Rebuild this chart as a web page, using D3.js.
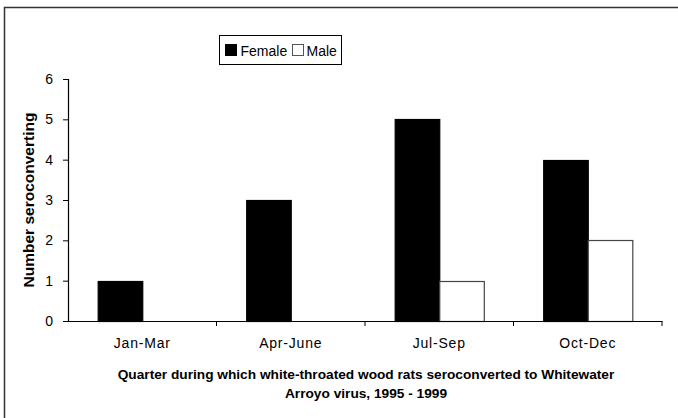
<!DOCTYPE html>
<html>
<head>
<meta charset="utf-8">
<script src="https://cdn.jsdelivr.net/npm/d3@7"></script>
<style>
  body { margin: 0; background: #fff; }
  text { font-family: Arial, "Liberation Sans", sans-serif; fill: #000; }
</style>
</head>
<body>
<div id="chart"></div>
<script>
var quarters = ["Jan-Mar", "Apr-June", "Jul-Sep", "Oct-Dec"];
var female = [1, 3, 5, 4];
var male = [0, 0, 1, 2];
var seriesNames = ["Female", "Male"];
var yTicks = [0, 1, 2, 3, 4, 5, 6];

var width = 678, height = 418;
var margin = {top: 79, right: 16, bottom: 97, left: 68};
var font = "Arial, 'Liberation Sans', sans-serif";

var svg = d3.select("#chart").append("svg")
  .attr("width", width)
  .attr("height", height);

// outer frame (runs off right/bottom as in the original)
svg.append("rect")
  .attr("x", 4.5).attr("y", 7.5)
  .attr("width", width).attr("height", height)
  .attr("fill", "none").attr("stroke", "#333").attr("stroke-width", 1.5);

var x0 = d3.scaleBand().domain(quarters)
  .range([margin.left, width - margin.right]);
var x1 = d3.scaleBand().domain(seriesNames)
  .range([x0.bandwidth() * 0.2, x0.bandwidth() * 0.8]);
var y = d3.scaleLinear().domain([0, 6])
  .range([height - margin.bottom, margin.top]);

var rows = quarters.map(function(q, i) {
  return {q: q, vals: [{k: "Female", v: female[i]}, {k: "Male", v: male[i]}]};
});

var g = svg.append("g");
g.selectAll("g.grp").data(rows).enter().append("g")
  .attr("class", "grp")
  .attr("transform", function(d) { return "translate(" + x0(d.q) + ",0)"; })
  .selectAll("rect").data(function(d) { return d.vals.filter(function(e) { return e.v > 0; }); })
  .enter().append("rect")
    .attr("x", function(d) { return x1(d.k) + 0.5; })
    .attr("y", function(d) { return Math.round(y(d.v)) + 0.5; })
    .attr("width", x1.bandwidth())
    .attr("height", function(d) { return Math.round(y(0)) - Math.round(y(d.v)); })
    .attr("fill", function(d) { return d.k === "Female" ? "#000" : "#fff"; })
    .attr("stroke", function(d) { return d.k === "Female" ? "#000" : "#444"; })
    .attr("stroke-width", 1.2);

// y axis
var yAxis = svg.append("g")
  .attr("transform", "translate(" + margin.left + ",0)")
  .call(d3.axisLeft(y).tickValues(yTicks).tickFormat(d3.format("d")).tickSize(5).tickPadding(10));
yAxis.select(".domain").attr("stroke", "#000").attr("stroke-width", 1.2);
yAxis.selectAll(".tick line").attr("stroke", "#000");
yAxis.selectAll(".tick text").attr("font-size", 14).attr("font-family", font);

// x axis
var xAxis = svg.append("g")
  .attr("transform", "translate(0," + y(0) + ")")
  .call(d3.axisBottom(x0).tickSize(0).tickPadding(17));
xAxis.select(".domain").attr("stroke", "#000").attr("stroke-width", 1.2);
xAxis.selectAll(".tick text").attr("font-size", 14).attr("letter-spacing", 0.8).attr("font-family", font);
// category separator ticks
xAxis.selectAll("line.sep").data(quarters).enter().append("line")
  .attr("class", "sep")
  .attr("x1", function(d) { return x0(d) + x0.bandwidth(); })
  .attr("x2", function(d) { return x0(d) + x0.bandwidth(); })
  .attr("y1", 0).attr("y2", 5)
  .attr("stroke", "#000");

// axis titles
svg.append("text")
  .attr("transform", "translate(34," + (margin.top + (height - margin.bottom - margin.top) / 2) + ") rotate(-90)")
  .attr("text-anchor", "middle")
  .attr("font-size", 15.5).attr("font-weight", "bold")
  .text("Number seroconverting");

svg.append("text")
  .attr("x", 366).attr("y", 379)
  .attr("text-anchor", "middle")
  .attr("font-size", 13.7).attr("font-weight", "bold")
  .text("Quarter during which white-throated wood rats seroconverted to Whitewater");
svg.append("text")
  .attr("x", 366).attr("y", 398)
  .attr("text-anchor", "middle")
  .attr("font-size", 13.7).attr("font-weight", "bold")
  .text("Arroyo virus, 1995 - 1999");

// legend
var legend = svg.append("g").attr("transform", "translate(219.5,35.5)");
legend.append("rect")
  .attr("width", 122).attr("height", 29)
  .attr("fill", "#fff").attr("stroke", "#000");
var items = [{n: "Female", fill: "#000", stroke: "#000", x: 6, tx: 21},
             {n: "Male", fill: "#fff", stroke: "#555", x: 73, tx: 87}];
legend.selectAll("rect.key").data(items).enter().append("rect")
  .attr("class", "key")
  .attr("x", function(d) { return d.x; }).attr("y", 9)
  .attr("width", 11).attr("height", 11)
  .attr("fill", function(d) { return d.fill; })
  .attr("stroke", function(d) { return d.stroke; });
legend.selectAll("text").data(items).enter().append("text")
  .attr("x", function(d) { return d.tx; }).attr("y", 20)
  .attr("font-size", 14)
  .text(function(d) { return d.n; });
</script>
</body>
</html>
